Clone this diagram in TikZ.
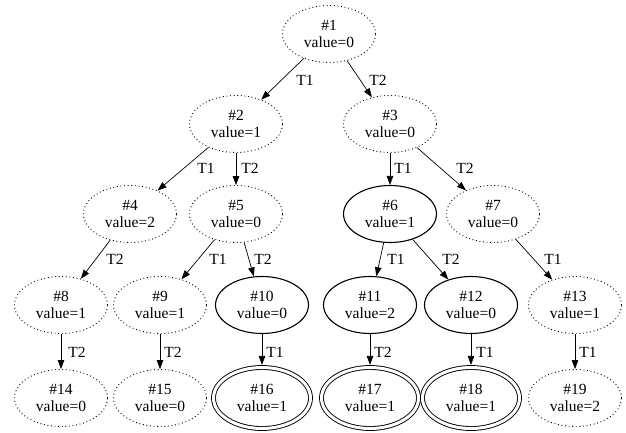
\documentclass[tikz,border=0pt]{standalone}
\usepackage{fontspec}
\setmainfont{Liberation Serif}
\usetikzlibrary{shapes.geometric,arrows.meta}
\tikzset{
  base/.style={ellipse, minimum width=93pt, minimum height=57pt, inner sep=0pt,
    align=center, font=\fontsize{15.5}{17.5}\selectfont},
  dotnode/.style={base, draw, line width=0.9pt, dash pattern=on 0.9pt off 2.7pt},
  solidnode/.style={base, draw, line width=1.1pt},
  dblnode/.style={base, draw, line width=0.9pt, double, double distance=3pt,
    minimum width=97pt, minimum height=61pt, outer sep=2.6pt},
  edge/.style={draw, line width=0.7pt, -{Triangle[length=9pt,width=6.5pt]}},
  lbl/.style={font=\fontsize{15.5}{17.5}\selectfont, inner sep=0pt}
}
\begin{document}
\begin{tikzpicture}[x=1pt,y=-1pt]
\useasboundingbox (0,0) rectangle (626,433);
\node[dotnode] (n1) at (329,34) {\#1\\value=0};
\node[dotnode] (n2) at (236,124) {\#2\\value=1};
\node[dotnode] (n3) at (390,124) {\#3\\value=0};
\node[dotnode] (n4) at (130,214) {\#4\\value=2};
\node[dotnode] (n5) at (236,214) {\#5\\value=0};
\node[solidnode] (n6) at (390,214) {\#6\\value=1};
\node[dotnode] (n7) at (493,214) {\#7\\value=0};
\node[dotnode] (n8) at (61,305) {\#8\\value=1};
\node[dotnode] (n9) at (160,305) {\#9\\value=1};
\node[solidnode] (n10) at (262,305) {\#10\\value=0};
\node[solidnode] (n11) at (370,305) {\#11\\value=2};
\node[solidnode] (n12) at (471,305) {\#12\\value=0};
\node[dotnode] (n13) at (575,305) {\#13\\value=1};
\node[dotnode] (n14) at (61,398) {\#14\\value=0};
\node[dotnode] (n15) at (160,398) {\#15\\value=0};
\node[dblnode] (n16) at (262,398) {\#16\\value=1};
\node[dblnode] (n17) at (370,398) {\#17\\value=1};
\node[dblnode] (n18) at (471,398) {\#18\\value=1};
\node[dotnode] (n19) at (575,398) {\#19\\value=2};

\draw[edge] (n1) -- (n2) node[lbl] at (305,80) {T1};
\draw[edge] (n1) -- (n3) node[lbl] at (378,80) {T2};
\draw[edge] (n2) -- (n4) node[lbl] at (206,168) {T1};
\draw[edge] (n2) -- (n5) node[lbl] at (250,168) {T2};
\draw[edge] (n3) -- (n6) node[lbl] at (403,168) {T1};
\draw[edge] (n3) -- (n7) node[lbl] at (465,168) {T2};
\draw[edge] (n4) -- (n8) node[lbl] at (115,259) {T2};
\draw[edge] (n5) -- (n9) node[lbl] at (218,259) {T1};
\draw[edge] (n5) -- (n10) node[lbl] at (263,259) {T2};
\draw[edge] (n6) -- (n11) node[lbl] at (396,259) {T1};
\draw[edge] (n6) -- (n12) node[lbl] at (451,259) {T2};
\draw[edge] (n7) -- (n13) node[lbl] at (553,259) {T1};
\draw[edge] (n8) -- (n14) node[lbl] at (77,352) {T2};
\draw[edge] (n9) -- (n15) node[lbl] at (173,352) {T2};
\draw[edge] (n10) -- (n16) node[lbl] at (275,352) {T1};
\draw[edge] (n11) -- (n17) node[lbl] at (383,352) {T2};
\draw[edge] (n12) -- (n18) node[lbl] at (485,352) {T1};
\draw[edge] (n13) -- (n19) node[lbl] at (588,352) {T1};
\end{tikzpicture}
\end{document}
